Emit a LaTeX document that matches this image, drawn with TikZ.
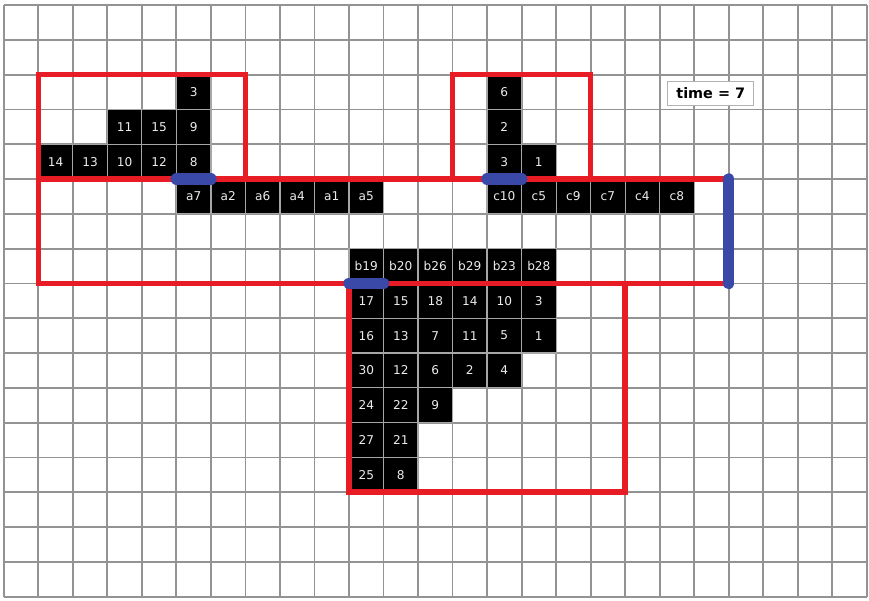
\documentclass[tikz,border=0pt]{standalone}
\usepackage{fontspec}
\setmainfont{DejaVu Sans}
\definecolor{wallred}{RGB}{232,28,36}
\definecolor{doorblue}{RGB}{58,72,168}
\begin{document}
\begin{tikzpicture}[x=0.8cm, y=-0.8065cm,
  gridline/.style={gray!85, line width=1.2pt},
  cell/.style={fill=black, draw=gray!70, line width=0.8pt, inner sep=0pt,
    minimum width=0.8cm, minimum height=0.8065cm,
    text=white!85!gray, font=\fontsize{8}{9}\selectfont},
  wall/.style={wallred, line width=3.6pt},
  door/.style={doorblue, line width=7.6pt, line cap=round}]
  \useasboundingbox (-0.11,-0.144) rectangle (25.064,17.098);
  % background grid
  \foreach \i in {0,...,25} \draw[gridline] (\i,0) -- (\i,17);
  \foreach \j in {0,...,17} \draw[gridline] (0,\j) -- (25,\j);
  % occupied cells: column/row/label
  \foreach \c/\r/\t in {5/2/3, 3/3/11, 4/3/15, 5/3/9,
      1/4/14, 2/4/13, 3/4/10, 4/4/12, 5/4/8,
      5/5/a7, 6/5/a2, 7/5/a6, 8/5/a4, 9/5/a1, 10/5/a5}
    \node[cell] (a\c-\r) at (\c+0.5,\r+0.5) {\t};
  \foreach \c/\r/\t in {14/2/6, 14/3/2, 14/4/3, 15/4/1,
      14/5/c10, 15/5/c5, 16/5/c9, 17/5/c7, 18/5/c4, 19/5/c8}
    \node[cell] (c\c-\r) at (\c+0.5,\r+0.5) {\t};
  \foreach \c/\r/\t in {10/7/b19, 11/7/b20, 12/7/b26, 13/7/b29, 14/7/b23, 15/7/b28,
      10/8/17, 11/8/15, 12/8/18, 13/8/14, 14/8/10, 15/8/3,
      10/9/16, 11/9/13, 12/9/7, 13/9/11, 14/9/5, 15/9/1,
      10/10/30, 11/10/12, 12/10/6, 13/10/2, 14/10/4,
      10/11/24, 11/11/22, 12/11/9,
      10/12/27, 11/12/21,
      10/13/25, 11/13/8}
    \node[cell] (b\c-\r) at (\c+0.5,\r+0.5) {\t};
  % rooms
  \draw[wall] (1,5) -- (1,2) -- (7,2) -- (7,5);
  \draw[wall] (13,5) -- (13,2) -- (17,2) -- (17,5);
  \draw[wall] (21,5) -- (1,5) -- (1,8) -- (21,8);
  \draw[wall] (10,8) -- (10,14) -- (18,14) -- (18,8);
  % doors
  \draw[door] (5,5) -- (6,5);
  \draw[door] (14,5) -- (15,5);
  \draw[door] (10,8) -- (11,8);
  \draw[door] (21,5) -- (21,8);
  \node[draw=gray!60, fill=white, line width=0.6pt, minimum width=2cm,
    minimum height=0.55cm, font=\fontsize{9.5}{11}\selectfont\bfseries]
    (clock) at (20.48,2.54) {time = 7};
\end{tikzpicture}
\end{document}
